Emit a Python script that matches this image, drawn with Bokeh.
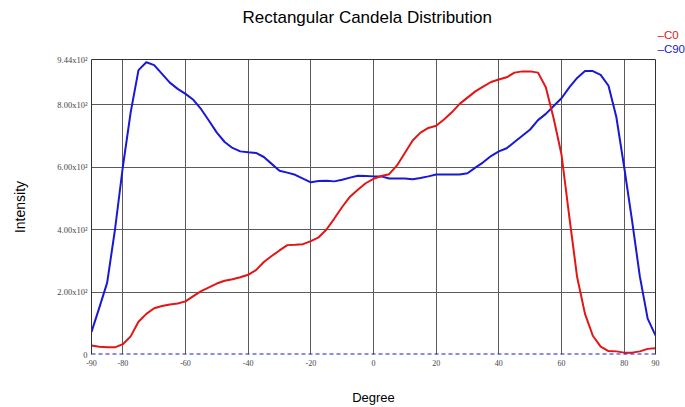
from bokeh.plotting import figure
from bokeh.models import Range1d, FixedTicker, LinearAxis, Title
from bokeh.embed import file_html
from bokeh.resources import INLINE

# ---- data ----
degrees = [-90, -87.5, -85, -82.5, -80, -77.5, -75, -72.5, -70, -67.5, -65, -62.5,
           -60, -57.5, -55, -52.5, -50, -47.5, -45, -42.5, -40, -37.5, -35, -32.5,
           -30, -27.5, -25, -22.5, -20, -17.5, -15, -12.5, -10, -7.5, -5, -2.5,
           0, 2.5, 5, 7.5, 10, 12.5, 15, 17.5, 20, 22.5, 25, 27.5,
           30, 32.5, 35, 37.5, 40, 42.5, 45, 47.5, 50, 52.5, 55, 57.5,
           60, 62.5, 65, 67.5, 70, 72.5, 75, 77.5, 80, 82.5, 85, 87.5, 90]

c0 = [29, 25, 23, 23, 33, 58, 105, 130, 148, 155, 160, 163,
      170, 187, 203, 215, 227, 236, 241, 247, 255, 270, 296, 315,
      333, 350, 351, 353, 363, 375, 400, 435, 472, 505, 527, 548,
      562, 571, 577, 605, 645, 685, 710, 725, 732, 752, 775, 802,
      822, 842, 857, 872, 880, 887, 902, 906, 906, 902, 855, 755,
      640, 440, 247, 130, 60, 25, 11, 10, 6, 6, 10, 18, 20]

c90 = [72, 150, 230, 400, 600, 775, 910, 935, 926, 898, 870, 850,
       834, 815, 785, 748, 710, 680, 661, 650, 647, 645, 632, 610,
       588, 582, 575, 563, 551, 555, 556, 554, 559, 566, 572, 571,
       570, 570, 563, 563, 563, 561, 565, 570, 576, 576, 576, 576,
       580, 598, 615, 635, 650, 660, 680, 700, 720, 750, 770, 795,
       820, 855, 885, 907, 907, 895, 860, 760, 600, 430, 250, 115, 61]

zero_deg = [-90, 90]
zero_val = [0, 0]

x_ticks = [-90, -80, -60, -40, -20, 0, 20, 40, 60, 80, 90]
x_tick_labels = ["-90", "-80", "-60", "-40", "-20", "0", "20", "40", "60", "80", "90"]
y_ticks = [0, 200, 400, 600, 800, 944]
y_tick_labels = ["0", "2.00x10\u00b2", "4.00x10\u00b2", "6.00x10\u00b2", "8.00x10\u00b2", "9.44x10\u00b2"]

series_names = ["C0", "C90"]
RED = "#e31515"
BLUE = "#1818d6"
FONT = "Liberation Sans"
TICK_FONT = "Liberation Serif"

p = figure(width=685, height=407, output_backend="svg", toolbar_location=None,
           x_range=Range1d(-90, 90), y_range=Range1d(0, 944),
           min_border_left=91, min_border_right=30, min_border_top=59, min_border_bottom=53,
           title="Rectangular Candela Distribution")

p.title.align = "left"
p.title.offset = 151
p.title.text_font = FONT
p.title.text_font_size = "17px"
p.title.text_font_style = "normal"
p.title.text_color = "black"
p.title.standoff = 0

p.outline_line_color = None
p.background_fill_color = "white"
p.border_fill_color = "white"

for ax in (p.xaxis, p.yaxis):
    ax.major_tick_in = 0
    ax.major_tick_out = 0
    ax.minor_tick_in = 0
    ax.minor_tick_out = 0
    ax.major_label_text_font = TICK_FONT
    ax.major_label_text_color = "#444444"
    ax.axis_label_text_font = FONT
    ax.axis_label_text_font_style = "normal"
    ax.axis_label_text_color = "black"

p.xaxis.ticker = FixedTicker(ticks=x_ticks)
p.xaxis.major_label_overrides = {t: l for t, l in zip(x_ticks, x_tick_labels)}
p.xaxis.major_label_text_font_size = "8px"
p.xaxis.major_label_standoff = 5
p.xaxis.axis_line_color = None
p.xaxis.axis_label = "Degree"
p.xaxis.axis_label_text_font_size = "13px"
p.xaxis.axis_label_standoff = 21

p.yaxis.ticker = FixedTicker(ticks=y_ticks)
p.yaxis.major_label_overrides = {t: l for t, l in zip(y_ticks, y_tick_labels)}
p.yaxis.major_label_text_font_size = "8.5px"
p.yaxis.major_label_standoff = 4
p.yaxis.axis_line_color = "#333333"
p.yaxis.axis_label = "Intensity"
p.yaxis.axis_label_text_font_size = "14px"
p.yaxis.axis_label_standoff = 26

# frame border on top / right; the top one has one invisible tick so that it
# keeps a few pixels between the frame and the legend texts above it
top_axis = LinearAxis(ticker=FixedTicker(ticks=[0]), major_tick_in=0, major_tick_out=5,
                      major_tick_line_color=None, minor_tick_in=0, minor_tick_out=0,
                      major_label_overrides={0: ""}, major_label_text_font_size="0px",
                      axis_line_color="#333333", major_label_standoff=0)
p.add_layout(top_axis, "above")
right_axis = LinearAxis(ticker=FixedTicker(ticks=[]), major_tick_in=0, major_tick_out=0,
                        minor_tick_in=0, minor_tick_out=0, major_label_text_font_size="0px",
                        axis_line_color="#333333", major_label_standoff=0)
p.add_layout(right_axis, "right")

p.grid.grid_line_color = "#5a5a5a"
p.grid.grid_line_width = 1

p.line(degrees, c90, line_color=BLUE, line_width=2)
p.line(degrees, c0, line_color=RED, line_width=2)
p.line(zero_deg, zero_val, line_color=BLUE, line_width=2, line_dash="4 3")

# legend entries as coloured texts beside the top right corner (C90 nearest the frame)
for name, col in [(series_names[1], BLUE), (series_names[0], RED)]:
    p.add_layout(Title(text="\u2013" + name, align="left", offset=566, standoff=0,
                       text_color=col, text_font=FONT, text_font_size="11.5px",
                       text_font_style="normal"), "above")

open("out.html", "w").write(file_html(p, INLINE))
